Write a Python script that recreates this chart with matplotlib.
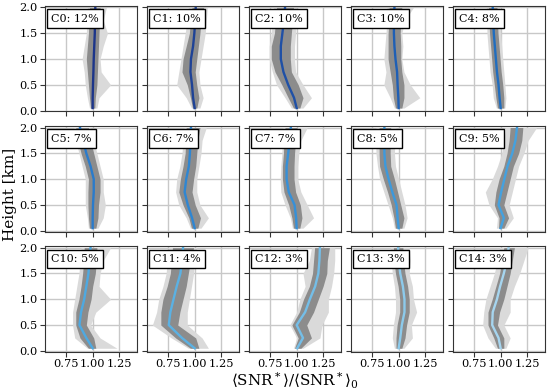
import matplotlib
matplotlib.use('Agg')
import matplotlib.pyplot as plt
import numpy as np

plt.rcParams['font.family'] = 'DejaVu Serif'
plt.rcParams['mathtext.fontset'] = 'dejavuserif'

# heights (km) at which the profiles were read
heights = [0.05, 0.25, 0.5, 0.75, 1.0, 1.25, 1.5, 1.75, 2.0]

labels = ['C0: 12%', 'C1: 10%', 'C2: 10%', 'C3: 10%', 'C4: 8%',
          'C5: 7%', 'C6: 7%', 'C7: 7%', 'C8: 5%', 'C9: 5%',
          'C10: 5%', 'C11: 4%', 'C12: 3%', 'C13: 3%', 'C14: 3%']

mean_colors = ['#1c358a', '#1e4296', '#1f50a6', '#1f5fb5', '#206dbf',
               '#2a7bcb', '#2f86d2', '#3690d8', '#3d99dc', '#44a1df',
               '#4ea9e1', '#5bb1e3', '#74bee8', '#8ccaeb', '#a6d5ef']

# cluster mean profiles
means = [
    [1.00, 1.00, 1.003, 1.007, 1.01, 1.015, 1.02, 1.022, 1.025],
    [1.00, 0.985, 0.975, 0.96, 0.965, 0.985, 0.997, 1.005, 1.01],
    [1.00, 0.975, 0.92, 0.875, 0.85, 0.85, 0.865, 0.88, 0.89],
    [1.00, 0.997, 0.99, 0.985, 0.97, 0.96, 0.955, 0.955, 0.96],
    [1.00, 0.99, 0.98, 0.965, 0.955, 0.945, 0.935, 0.93, 0.925],
    [1.00, 1.00, 1.003, 1.01, 1.01, 0.98, 0.94, 0.91, 0.88],
    [1.00, 0.975, 0.935, 0.905, 0.92, 0.945, 0.955, 0.96, 0.965],
    [1.00, 0.995, 0.98, 0.925, 0.905, 0.905, 0.92, 0.935, 0.945],
    [1.00, 0.99, 0.98, 0.94, 0.905, 0.875, 0.865, 0.865, 0.865],
    [1.00, 1.03, 0.98, 1.005, 1.035, 1.065, 1.11, 1.14, 1.155],
    [1.00, 0.94, 0.875, 0.89, 0.92, 0.94, 0.96, 0.97, 0.98],
    [1.00, 0.88, 0.755, 0.77, 0.80, 0.83, 0.865, 0.88, 0.89],
    [1.005, 1.06, 1.00, 1.08, 1.125, 1.175, 1.205, 1.215, 1.22],
    [1.00, 1.015, 1.03, 1.055, 1.055, 1.04, 1.015, 1.00, 0.995],
    [1.00, 0.98, 0.92, 0.925, 0.965, 0.995, 1.03, 1.06, 1.075],
]

# dense core of member profiles
core_lo = [
    [0.98, 0.97, 0.96, 0.95, 0.94, 0.95, 0.96, 0.965, 0.97],
    [0.98, 0.96, 0.93, 0.88, 0.89, 0.92, 0.95, 0.96, 0.975],
    [0.97, 0.92, 0.86, 0.795, 0.76, 0.76, 0.79, 0.80, 0.81],
    [0.97, 0.95, 0.94, 0.92, 0.90, 0.90, 0.90, 0.91, 0.91],
    [0.97, 0.955, 0.94, 0.925, 0.915, 0.905, 0.895, 0.89, 0.885],
    [0.97, 0.96, 0.955, 0.955, 0.96, 0.93, 0.89, 0.86, 0.84],
    [0.97, 0.945, 0.89, 0.85, 0.865, 0.89, 0.91, 0.915, 0.92],
    [0.97, 0.955, 0.925, 0.88, 0.865, 0.865, 0.875, 0.88, 0.89],
    [0.97, 0.955, 0.93, 0.895, 0.855, 0.82, 0.815, 0.815, 0.815],
    [0.98, 0.985, 0.94, 0.955, 0.985, 1.03, 1.06, 1.08, 1.09],
    [0.96, 0.88, 0.84, 0.84, 0.87, 0.89, 0.905, 0.915, 0.92],
    [0.96, 0.82, 0.68, 0.68, 0.70, 0.74, 0.77, 0.78, 0.79],
    [0.98, 1.015, 0.955, 1.025, 1.065, 1.12, 1.15, 1.16, 1.17],
    [0.975, 0.975, 0.985, 1.01, 1.01, 0.995, 0.97, 0.955, 0.95],
    [0.97, 0.935, 0.88, 0.88, 0.92, 0.955, 0.99, 1.01, 1.03],
]
core_hi = [
    [1.02, 1.025, 1.04, 1.045, 1.05, 1.055, 1.06, 1.065, 1.07],
    [1.02, 1.04, 1.02, 1.005, 1.02, 1.035, 1.05, 1.06, 1.085],
    [1.03, 1.06, 1.015, 0.95, 0.94, 0.94, 0.95, 0.96, 0.97],
    [1.03, 1.05, 1.05, 1.03, 1.02, 1.02, 1.015, 1.02, 1.03],
    [1.03, 1.03, 1.02, 1.005, 0.995, 0.985, 0.975, 0.97, 0.965],
    [1.03, 1.05, 1.055, 1.07, 1.07, 1.04, 1.01, 0.98, 0.96],
    [1.03, 1.055, 1.005, 0.975, 0.99, 1.01, 1.02, 1.03, 1.05],
    [1.03, 1.05, 1.035, 0.99, 0.975, 0.975, 0.98, 0.99, 1.005],
    [1.03, 1.05, 1.02, 0.99, 0.96, 0.925, 0.92, 0.92, 0.925],
    [1.03, 1.075, 1.03, 1.06, 1.09, 1.12, 1.17, 1.20, 1.21],
    [1.03, 1.01, 0.94, 0.955, 0.985, 1.00, 1.025, 1.035, 1.04],
    [1.04, 1.01, 0.84, 0.86, 0.89, 0.92, 0.94, 0.96, 0.99],
    [1.04, 1.14, 1.095, 1.16, 1.205, 1.25, 1.285, 1.29, 1.31],
    [1.03, 1.06, 1.075, 1.10, 1.10, 1.085, 1.06, 1.045, 1.04],
    [1.03, 1.03, 0.97, 0.99, 1.03, 1.06, 1.09, 1.11, 1.13],
]

# outer envelope of member profiles
out_lo = [
    [0.97, 0.95, 0.93, 0.92, 0.90, 0.92, 0.94, 0.945, 0.95],
    [0.97, 0.92, 0.83, 0.85, 0.87, 0.89, 0.91, 0.93, 0.94],
    [0.95, 0.89, 0.81, 0.77, 0.74, 0.74, 0.76, 0.77, 0.78],
    [0.96, 0.92, 0.86, 0.88, 0.86, 0.87, 0.88, 0.89, 0.89],
    [0.96, 0.93, 0.92, 0.90, 0.89, 0.88, 0.87, 0.87, 0.865],
    [0.96, 0.95, 0.93, 0.93, 0.93, 0.90, 0.87, 0.84, 0.82],
    [0.96, 0.92, 0.85, 0.82, 0.83, 0.86, 0.88, 0.89, 0.90],
    [0.96, 0.94, 0.89, 0.85, 0.845, 0.85, 0.86, 0.865, 0.87],
    [0.96, 0.94, 0.90, 0.86, 0.82, 0.80, 0.785, 0.785, 0.785],
    [0.96, 0.97, 0.89, 0.855, 0.92, 0.97, 1.01, 1.03, 1.045],
    [0.95, 0.83, 0.81, 0.81, 0.83, 0.85, 0.87, 0.88, 0.89],
    [0.94, 0.78, 0.60, 0.64, 0.66, 0.70, 0.73, 0.74, 0.75],
    [0.97, 1.00, 0.935, 1.00, 1.03, 1.08, 1.06, 1.12, 1.14],
    [0.96, 0.94, 0.95, 0.97, 0.97, 0.96, 0.94, 0.93, 0.92],
    [0.95, 0.88, 0.83, 0.84, 0.86, 0.90, 0.94, 0.97, 0.99],
]
out_hi = [
    [1.04, 1.06, 1.17, 1.08, 1.07, 1.10, 1.14, 1.10, 1.13],
    [1.05, 1.08, 1.05, 1.04, 1.06, 1.08, 1.10, 1.11, 1.12],
    [1.06, 1.14, 1.06, 0.99, 0.98, 0.98, 0.99, 1.00, 1.00],
    [1.05, 1.20, 1.11, 1.05, 1.03, 1.04, 1.03, 1.06, 1.14],
    [1.04, 1.05, 1.04, 1.03, 1.02, 1.01, 1.00, 0.995, 0.99],
    [1.05, 1.10, 1.12, 1.10, 1.10, 1.07, 1.04, 1.01, 0.98],
    [1.06, 1.13, 1.05, 1.02, 1.02, 1.04, 1.06, 1.07, 1.11],
    [1.06, 1.16, 1.10, 1.04, 1.01, 1.01, 1.02, 1.04, 1.10],
    [1.05, 1.08, 1.06, 1.03, 1.00, 0.97, 0.96, 0.965, 0.975],
    [1.05, 1.12, 1.08, 1.11, 1.14, 1.17, 1.22, 1.26, 1.34],
    [1.23, 1.07, 0.98, 1.03, 1.17, 1.06, 1.07, 1.10, 1.17],
    [1.13, 1.07, 0.93, 0.93, 0.95, 0.97, 0.99, 1.00, 1.02],
    [1.06, 1.22, 1.24, 1.30, 1.30, 1.33, 1.35, 1.36, 1.36],
    [1.05, 1.13, 1.12, 1.17, 1.14, 1.13, 1.10, 1.11, 1.10],
    [1.05, 1.09, 1.03, 1.09, 1.09, 1.13, 1.18, 1.22, 1.26],
]

fig, axes = plt.subplots(3, 5, figsize=(5.5, 3.92), dpi=100, sharex=True, sharey=True)
fig.subplots_adjust(left=0.082, right=0.991, top=0.985, bottom=0.103,
                    wspace=0.109, hspace=0.138)

for i, ax in enumerate(axes.flat):
    ax.set_axisbelow(True)
    ax.grid(True, color='#c8c8c8', linewidth=1.0)
    ax.fill_betweenx(heights, out_lo[i], out_hi[i], color='#dadada', lw=0)
    ax.fill_betweenx(heights, core_lo[i], core_hi[i], color='#8c8c8c', lw=0)
    ax.plot(means[i], heights, color=mean_colors[i], lw=1.7)
    ax.text(0.065, 0.925, labels[i], transform=ax.transAxes, va='top', ha='left',
            fontsize=8,
            bbox=dict(facecolor='white', edgecolor='black', boxstyle='square,pad=0.4', lw=1.0))
    for s in ax.spines.values():
        s.set_color('#333333')
    ax.tick_params(labelsize=8.2, length=3.5, color='#333333', pad=2)

axes[0, 0].set_xlim(0.55, 1.42)
axes[0, 0].set_ylim(-0.015, 2.03)
axes[0, 0].set_xticks([0.75, 1.00, 1.25])
axes[0, 0].set_yticks([0.0, 0.5, 1.0, 1.5, 2.0])

fig.text(0.536, 0.028, r'$\langle\mathrm{SNR}^*\rangle/\langle\mathrm{SNR}^*\rangle_0$',
         ha='center', va='center', fontsize=11)
fig.text(0.018, 0.505, 'Height [km]', rotation=90, ha='center', va='center', fontsize=11)

fig.savefig('out.png', dpi=100)
